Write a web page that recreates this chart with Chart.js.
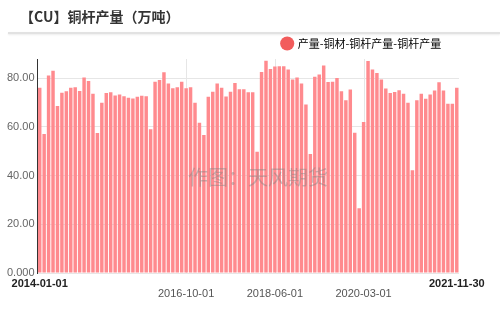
<!DOCTYPE html>
<html>
<head>
<meta charset="utf-8">
<script src="https://cdn.jsdelivr.net/npm/chart.js@4.4.1/dist/chart.umd.min.js"></script>
<style>
    body { margin: 0; background: #fff; }
    #wrap { position: relative; width: 500px; height: 317px; }
    #title {
        position: absolute; left: 20px; top: 6px;
        font: bold 14px "Noto Sans CJK SC", sans-serif; color: #333;
    }
    #rule {
        position: absolute; left: 8px; right: 0; top: 32px; height: 2px;
        background: #e2e2e2; box-shadow: 0 1px 2px rgba(0,0,0,0.08);
    }
    canvas { position: absolute; left: 0; top: 0; }
</style>
</head>
<body>
<div id="wrap">
    <canvas id="chart" width="500" height="317"></canvas>
    <div id="title">【CU】铜杆产量（万吨）</div>
    <div id="rule"></div>
</div>
<script>
// Series name
const SERIES_NAME = '产量-铜材-铜杆产量-铜杆产量';

// Monthly copper rod output (万吨)
const values = [
    76, 57, 81, 83, 68.5, 74, 74.6, 76, 76.2, 74.7, 80.2, 78.8,
    73.5, 57.4, 69.8, 73.8, 74.2, 72.8, 73.2, 72.5, 71.9, 71.6, 72.3, 72.7,
    72.5, 59, 78.5, 79.2, 82.4, 77.7, 75.8, 76.2, 78.5, 75.8, 76.2, 69.8,
    61.6, 56.6, 72.3, 74.4, 77.7, 76, 72.4, 74.4, 78, 75.4, 75.4, 74.2,
    74.2, 49.7, 82.5, 87.1, 83.7, 84.7, 84.8, 84.8, 83.5, 79.4, 80.2, 77.7,
    69.1, 48.8, 80.5, 81.4, 85.1, 78.4, 78.5, 80, 74.6, 70.9, 75.3, 57.5,
    26.6, 62, 87, 83.5, 82.1, 79.4, 75.7, 73.9, 74.3, 75, 73.5, 69.9,
    42.2, 70.9, 73.5, 71.5, 73.2, 74.9, 78.3, 74.9, 69.4, 69.4, 76
];

// Category labels (one per bar)
const categories = [];
for (let i = 0; i < values.length; i++) {
    const y = 2014 + Math.floor(i / 12);
    const m = (i % 12) + 1;
    categories.push(y + '-' + String(m).padStart(2, '0'));
}

// X tick labels and the bars they sit under
const edgeLabels = ['2014-01-01', '2021-11-30'];
const edgeIndex = [0, values.length - 1];
const midLabels = ['2016-10-01', '2018-06-01', '2020-03-01'];
const midIndex = [33, 53, 73];

const yTicks = [0, 20, 40, 60, 80];

// Draw x labels + watermark
const extras = {
    id: 'extras',
    beforeDatasetsDraw(chart) {
        const ctx = chart.ctx;
        const x = chart.scales.x;
        const area = chart.chartArea;
        ctx.save();
        ctx.strokeStyle = '#e6e6e6';
        ctx.lineWidth = 1;
        midIndex.forEach(i => {
            const px = Math.round(x.getPixelForValue(i)) + 0.5;
            ctx.beginPath();
            ctx.moveTo(px, area.top);
            ctx.lineTo(px, area.bottom);
            ctx.stroke();
        });
        ctx.restore();
    },
    afterDatasetsDraw(chart) {
        const ctx = chart.ctx;
        ctx.save();
        ctx.font = '20px "Noto Sans CJK SC", sans-serif';
        ctx.fillStyle = 'rgba(130,130,130,0.45)';
        ctx.textAlign = 'center';
        ctx.textBaseline = 'middle';
        ctx.fillText('作图：天风期货', 258, 177);
        ctx.restore();
    },
    afterDraw(chart) {
        const ctx = chart.ctx;
        const x = chart.scales.x;
        ctx.save();
        ctx.textAlign = 'center';
        ctx.textBaseline = 'middle';
        ctx.font = 'bold 11px "Liberation Sans", Arial, sans-serif';
        ctx.fillStyle = '#222';
        edgeLabels.forEach((t, k) => {
            ctx.fillText(t, x.getPixelForValue(edgeIndex[k]), 284);
        });
        ctx.font = '11px "Liberation Sans", Arial, sans-serif';
        ctx.fillStyle = '#555';
        midLabels.forEach((t, k) => {
            ctx.fillText(t, x.getPixelForValue(midIndex[k]), 294);
        });
        ctx.restore();
    }
};

new Chart(document.getElementById('chart').getContext('2d'), {
    type: 'bar',
    data: {
        labels: categories,
        datasets: [{
            label: SERIES_NAME,
            data: values,
            backgroundColor: '#ff8a8e',
            borderWidth: 0,
            categoryPercentage: 1,
            barPercentage: 0.78
        }]
    },
    options: {
        responsive: false,
        animation: false,
        layout: { padding: { top: 30, right: 41, bottom: 36, left: 0 } },
        scales: {
            x: {
                ticks: { display: false },
                grid: { display: false },
                border: { display: false }
            },
            y: {
                min: 0,
                max: 87.8,
                afterFit(scale) { scale.width = 37.5; },
                afterBuildTicks(scale) {
                    scale.ticks = yTicks.map(v => ({ value: v }));
                },
                ticks: {
                    padding: 3,
                    color: '#666',
                    font: { size: 11, family: '"Liberation Sans", Arial, sans-serif' },
                    callback: v => v === 0 ? '0.000' : v.toFixed(2)
                },
                grid: { color: '#e6e6e6', drawTicks: false },
                border: { color: '#333', width: 1 }
            }
        },
        plugins: {
            legend: {
                position: 'top',
                align: 'end',
                labels: {
                    usePointStyle: true,
                    pointStyle: 'circle',
                    boxWidth: 10,
                    boxHeight: 10,
                    padding: 8,
                    color: '#333',
                    font: { size: 11, family: '"Noto Sans CJK SC", sans-serif' },
                    generateLabels(chart) {
                        return [{
                            text: SERIES_NAME + '    ',
                            fillStyle: '#f25c5c',
                            strokeStyle: '#f25c5c',
                            lineWidth: 0,
                            pointStyle: 'circle',
                            datasetIndex: 0
                        }];
                    }
                }
            },
            tooltip: { enabled: false }
        }
    },
    plugins: [extras]
});
</script>
</body>
</html>
